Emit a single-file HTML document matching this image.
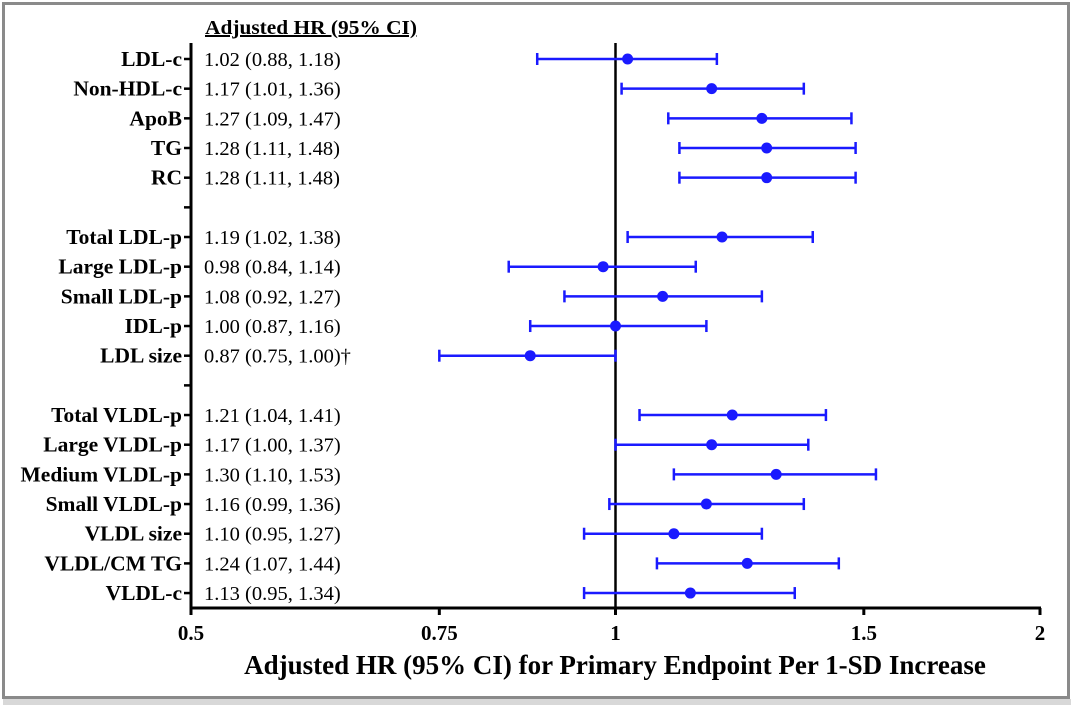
<!DOCTYPE html>
<html><head><meta charset="utf-8"><style>
body{margin:0;background:#fff;width:1074px;height:710px;overflow:hidden}
svg{display:block}
text{font-family:"Liberation Serif",serif}
</style></head><body>
<svg width="1074" height="710">
<rect x="0" y="0" width="1074" height="710" fill="#fff"/>
<rect x="3.5" y="3.5" width="1065" height="694" fill="none" stroke="#8a8a8a" stroke-width="3"/>
<rect x="3" y="699" width="1068" height="6" fill="#d8d8d8"/>
<g id="plot"></g>
</svg>
<script>
const labels=["LDL-c","Non-HDL-c","ApoB","TG","RC","","Total LDL-p","Large LDL-p","Small LDL-p","IDL-p","LDL size","","Total VLDL-p","Large VLDL-p","Medium VLDL-p","Small VLDL-p","VLDL size","VLDL/CM TG","VLDL-c"];
const hr=[1.02,1.17,1.27,1.28,1.28,null,1.19,0.98,1.08,1.00,0.87,null,1.21,1.17,1.30,1.16,1.10,1.24,1.13];
const lo=[0.88,1.01,1.09,1.11,1.11,null,1.02,0.84,0.92,0.87,0.75,null,1.04,1.00,1.10,0.99,0.95,1.07,0.95];
const hi=[1.18,1.36,1.47,1.48,1.48,null,1.38,1.14,1.27,1.16,1.00,null,1.41,1.37,1.53,1.36,1.27,1.44,1.34];
const ciText=["1.02 (0.88, 1.18)","1.17 (1.01, 1.36)","1.27 (1.09, 1.47)","1.28 (1.11, 1.48)","1.28 (1.11, 1.48)","","1.19 (1.02, 1.38)","0.98 (0.84, 1.14)","1.08 (0.92, 1.27)","1.00 (0.87, 1.16)","0.87 (0.75, 1.00)†","","1.21 (1.04, 1.41)","1.17 (1.00, 1.37)","1.30 (1.10, 1.53)","1.16 (0.99, 1.36)","1.10 (0.95, 1.27)","1.24 (1.07, 1.44)","1.13 (0.95, 1.34)"];
const xTicks=[0.5,0.75,1,1.5,2];
const xTickLabels=["0.5","0.75","1","1.5","2"];

const NS="http://www.w3.org/2000/svg";
const g=document.getElementById('plot');
const X0=191,X1=1040,Y0=59,DY=29.67,AXY=608;
function xs(v){return X0+(Math.log2(v)-Math.log2(0.5))/(Math.log2(2)-Math.log2(0.5))*(X1-X0);}
function ys(i){return Y0+i*DY;}
function el(t,a,txt){const e=document.createElementNS(NS,t);for(const k in a)e.setAttribute(k,a[k]);if(txt!==undefined)e.textContent=txt;g.appendChild(e);return e;}

let e;
e=el('text',{x:205,y:34,'font-size':20,'font-weight':'bold','text-decoration':'underline',textLength:212,lengthAdjust:'spacingAndGlyphs'},'Adjusted HR (95% CI)');


e=el('line',{x1:X0,y1:43,x2:X0,y2:AXY+1,stroke:'#000','stroke-width':3});


e=el('line',{x1:X0-1.5,y1:AXY,x2:X1+1,y2:AXY,stroke:'#000','stroke-width':3});


e=el('line',{x1:xs(1),y1:43,x2:xs(1),y2:AXY,stroke:'#000','stroke-width':2.5});



xTicks.forEach((t,i)=>{
 let a=el('line',{x1:xs(t),y1:AXY,x2:xs(t),y2:AXY+7,stroke:'#000','stroke-width':3});
 
 
 let b=el('text',{x:xs(t),y:640,'font-size':21,'font-weight':'bold','text-anchor':'middle'},xTickLabels[i]);
 
 
});
e=el('text',{x:615,y:674,'font-size':27,'font-weight':'bold','text-anchor':'middle'},'Adjusted HR (95% CI) for Primary Endpoint Per 1-SD Increase');



labels.forEach((lab,i)=>{
 const y=ys(i);
 let t=el('line',{x1:X0-7,y1:y,x2:X0,y2:y,stroke:'#000','stroke-width':2.5});
 
 
 if(!lab)return;
 let l=el('text',{x:X0-9,y:y+7,'font-size':21.5,'font-weight':'bold','text-anchor':'end'},lab);
 
 
 let c=el('text',{x:204,y:y+7,'font-size':20.5},ciText[i]);
 
 
 const col='#1a1aff';
 let w=el('line',{x1:xs(lo[i]),y1:y,x2:xs(hi[i]),y2:y,stroke:col,'stroke-width':2.5});
 
 
 [lo[i],hi[i]].forEach(v=>{
  let c2=el('line',{x1:xs(v),y1:y-6,x2:xs(v),y2:y+6,stroke:col,'stroke-width':2.5});
  
  
 });
 let p=el('circle',{cx:xs(hr[i]),cy:y,r:5.5,fill:col});
 
 
});
</script>
</body></html>
